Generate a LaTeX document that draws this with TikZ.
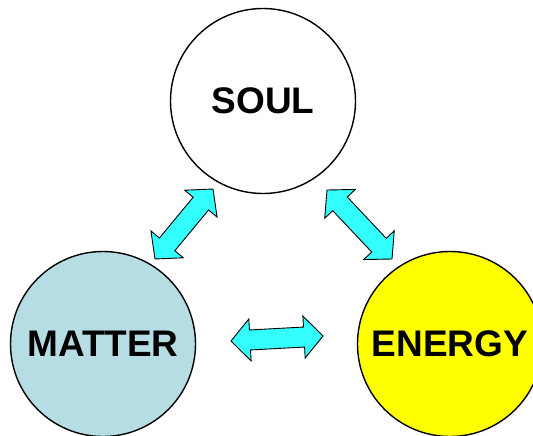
\documentclass[tikz,border=0pt]{standalone}
\usepackage{fontspec}
\setmainfont{Liberation Sans}
\usetikzlibrary{calc}
\definecolor{mattercol}{RGB}{183,221,228}
\definecolor{energycol}{RGB}{255,255,0}
\definecolor{arrowcol}{RGB}{51,255,255}
\tikzset{
  bubble/.style={circle, draw=black, line width=1.4pt, minimum size=185pt, inner sep=0pt,
    font=\fontsize{37}{40}\selectfont\bfseries, text=black},
  blockarrow/.style={draw=black, line width=0.9pt, fill=arrowcol, line join=miter},
}
\newcommand{\ah}{19pt}
\newcommand{\aw}{21pt}
\newcommand{\as}{10pt}
\newcommand{\fatarrow}[2]{%
  \path[blockarrow] (#1)
   -- ($(#1)!\ah!(#2)!\aw!90:(#2)$)
   -- ($(#1)!\ah!(#2)!\as!90:(#2)$)
   -- ($(#2)!\ah!(#1)!\as!-90:(#1)$)
   -- ($(#2)!\ah!(#1)!\aw!-90:(#1)$)
   -- (#2)
   -- ($(#2)!\ah!(#1)!\aw!90:(#1)$)
   -- ($(#2)!\ah!(#1)!\as!90:(#1)$)
   -- ($(#1)!\ah!(#2)!\as!-90:(#2)$)
   -- ($(#1)!\ah!(#2)!\aw!-90:(#2)$)
   -- cycle;}
\begin{document}
\begin{tikzpicture}[x=1pt,y=-1pt]
  \useasboundingbox (0,0) rectangle (533,436);
  \clip (0,0) rectangle (533,436);
  \fill[white] (0,0) rectangle (533,436);
  \node[bubble, fill=white] (soul) at (263,101) {SOUL};
  \node[bubble, fill=mattercol] (matter) at (103,344) {MATTER};
  \node[bubble, fill=energycol] (energy) at (450,344) {ENERGY};
  \coordinate (a1s) at (155,259);
  \coordinate (a1e) at (213,189);
  \coordinate (a2s) at (327,190);
  \coordinate (a2e) at (392,259);
  \coordinate (a3s) at (231,341);
  \coordinate (a3e) at (323,336);
  \fatarrow{a1s}{a1e}
  \fatarrow{a2s}{a2e}
  \fatarrow{a3s}{a3e}
\end{tikzpicture}
\end{document}
